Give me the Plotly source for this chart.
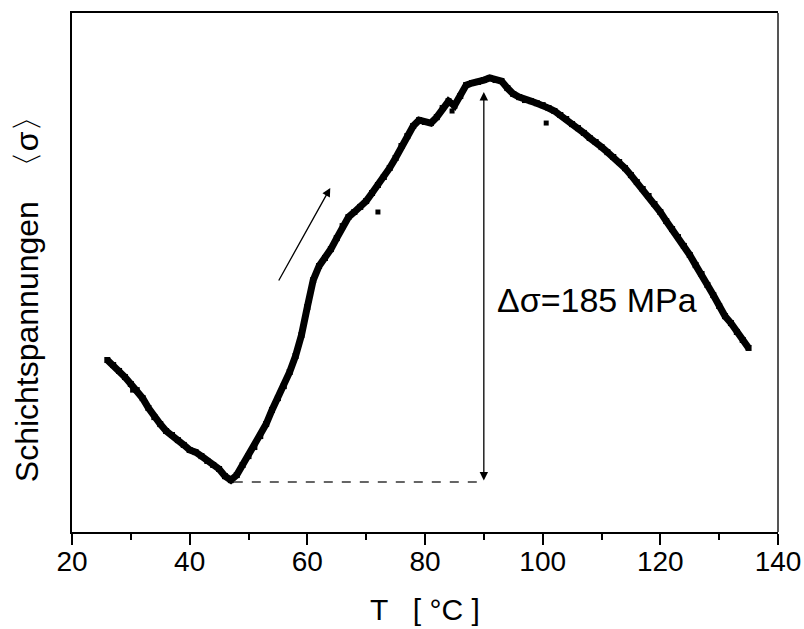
import plotly.graph_objects as go

# Temperature (°C) and layer stress (MPa, relative to minimum)
T = list(range(26, 136))
sigma = [57.9, 55.5, 52.7, 49.8, 46.5, 43.6, 39.8, 35.1, 30.8, 27.5,
         24.2, 22.3, 19.9, 17.6, 15.2, 14.2, 12.3, 10.0, 8.1, 6.2,
         2.8, 0.9, 3.3, 8.1, 12.3, 16.6, 21.8, 27.5, 34.2, 39.8,
         45.5, 52.2, 59.8, 69.7, 83.0, 95.8, 102.5, 106.3, 110.5, 115.7,
         121.4, 125.7, 128.1, 130.5, 133.3, 137.1, 140.9, 144.7, 149.0, 153.7,
         159.4, 164.1, 168.9, 171.7, 170.8, 170.3, 173.1, 177.4, 180.7, 178.5,
         183.1, 188.3, 189.3, 189.8, 190.7, 191.7, 190.7, 190.2, 186.9, 184.1,
         182.6, 181.2, 180.7, 179.7, 178.8, 177.4, 176.0, 174.1, 172.2, 169.8,
         167.9, 165.6, 163.2, 161.3, 158.9, 156.5, 154.2, 151.8, 148.9, 145.6,
         142.3, 139.0, 135.7, 131.9, 128.1, 123.8, 120.0, 116.2, 112.0, 107.7,
         102.9, 98.7, 93.5, 88.7, 83.5, 78.7, 75.4, 71.2, 67.4, 63.6]

# a few stray points visible beside the band
T_stray = [30.3, 72.0, 100.6, 84.6]
sigma_stray = [43.6, 128.1, 170.3, 176.0]

delta_label = "Δσ=185 MPa"
x_title = "T   [ °C ]"
y_title = "Schichtspannungen  〈σ〉"
x_ticks = [20, 40, 60, 80, 100, 120, 140]

FONT = "Liberation Sans, Arial, sans-serif"

fig = go.Figure()
fig.add_trace(go.Scatter(
    x=T, y=sigma, mode="lines+markers",
    line=dict(color="black", width=7),
    marker=dict(symbol="square", size=6, color="black"),
    showlegend=False, hoverinfo="skip"))
fig.add_trace(go.Scatter(
    x=T_stray, y=sigma_stray, mode="markers",
    marker=dict(symbol="square", size=5, color="black"),
    showlegend=False, hoverinfo="skip"))

# dashed baseline at the minimum
fig.add_shape(type="line", xref="x", yref="y", x0=47.5, x1=90, y0=0, y1=0,
              line=dict(color="#333333", width=1.5, dash="dash"))
# right spine (grey)
fig.add_shape(type="line", xref="paper", yref="paper", x0=1, x1=1, y0=0, y1=1,
              line=dict(color="#555555", width=2))

# heating direction arrow
fig.add_annotation(x=63.9, y=139.5, ax=55.0, ay=94.9, xref="x", yref="y",
                   axref="x", ayref="y", showarrow=True, arrowhead=2,
                   arrowsize=1.3, arrowwidth=1.3, arrowcolor="black", text="")
# double arrow for delta sigma
fig.add_annotation(x=90, y=185, ax=90, ay=0, xref="x", yref="y",
                   axref="x", ayref="y", showarrow=True, arrowhead=2,
                   startarrowhead=2, arrowside="end+start",
                   arrowsize=1.3, arrowwidth=1.3, arrowcolor="black", text="")
fig.add_annotation(x=91.9, y=86.3, xref="x", yref="y", text=delta_label,
                   showarrow=False, xanchor="left", yanchor="middle",
                   font=dict(family=FONT, size=34, color="black"))

# axis titles
fig.add_annotation(x=0.5, y=-0.150, xref="paper", yref="paper", text=x_title,
                   showarrow=False, xanchor="center", yanchor="middle",
                   font=dict(family=FONT, size=30, color="black"))
fig.add_annotation(x=-0.0637, y=0.464, xref="paper", yref="paper", text=y_title,
                   showarrow=False, xanchor="center", yanchor="middle", textangle=-90,
                   font=dict(family=FONT, size=32, color="black"))

fig.update_layout(
    width=804, height=629,
    margin=dict(l=72, r=26, t=13, b=97, autoexpand=False),
    paper_bgcolor="white", plot_bgcolor="white",
    font=dict(family=FONT, color="black"),
    xaxis=dict(range=[20, 140], tickvals=x_ticks, ticks="outside", ticklen=11,
               tickwidth=2, tickcolor="black", showline=True, linecolor="black",
               linewidth=2, mirror=True, showgrid=False, zeroline=False,
               automargin=False, ticklabelstandoff=-8,
               tickfont=dict(family=FONT, size=28, color="black"),
               minor=dict(dtick=10, tick0=20, ticks="outside", ticklen=6,
                          tickwidth=2, tickcolor="black", showgrid=False)),
    yaxis=dict(range=[-23.7, 222.5], showticklabels=False, ticks="",
               showline=True, linecolor="black", linewidth=2, mirror=False,
               showgrid=False, zeroline=False, automargin=False),
)

fig.write_html("out.html")
